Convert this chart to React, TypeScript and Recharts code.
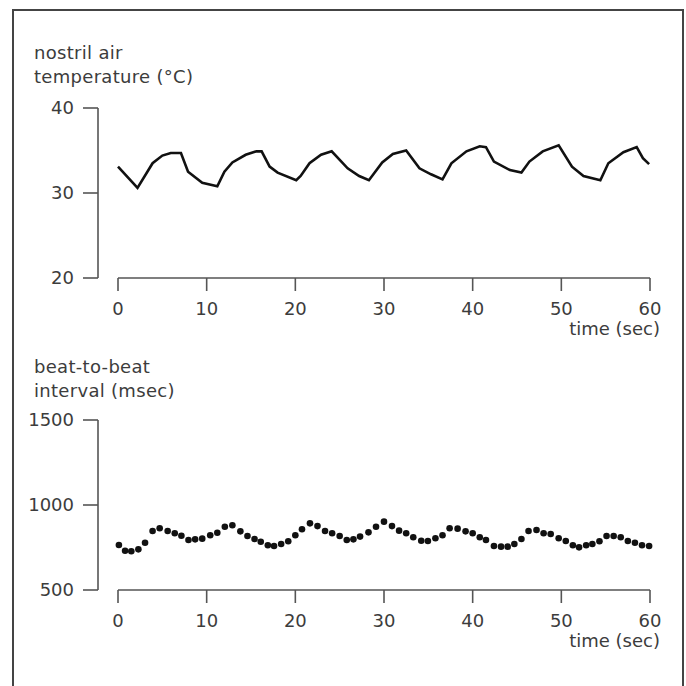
import {
  LineChart,
  Line,
  ScatterChart,
  Scatter,
  XAxis,
  YAxis,
  ReferenceLine,
  Label,
} from 'recharts'

// nostril air temperature trace (sec, °C)
const tempTime = [
  0, 2.2, 3.9, 5.0, 5.95, 7.1, 7.9, 9.5, 11.2, 12.0, 12.9, 14.4, 15.6, 16.2, 17.1, 18.0,
  20.1, 20.6, 21.6, 22.9, 24.1, 25.9, 27.2, 28.3, 29.8, 31.0, 32.5, 34.0, 35.3, 36.6,
  37.6, 39.3, 40.8, 41.5, 42.4, 44.2, 45.5, 46.4, 47.9, 49.7, 51.2, 52.5, 54.4, 55.3,
  57.0, 58.5, 59.2, 59.9,
]
const tempValue = [
  33.1, 30.6, 33.5, 34.4, 34.7, 34.7, 32.5, 31.2, 30.8, 32.5, 33.6, 34.5, 34.9, 34.9, 33.1, 32.4,
  31.5, 32.0, 33.5, 34.5, 34.9, 32.9, 32.0, 31.5, 33.6, 34.6, 35.0, 32.9, 32.2, 31.6,
  33.5, 34.9, 35.5, 35.4, 33.7, 32.7, 32.4, 33.7, 34.9, 35.6, 33.1, 32.0, 31.5, 33.5,
  34.8, 35.4, 34.1, 33.4,
]

// beat-to-beat interval (sec, msec)
const beatTime = [
  0.1, 0.8, 1.5, 2.3, 3.05, 3.9, 4.7, 5.6, 6.4, 7.15, 7.95, 8.7, 9.5, 10.4, 11.2, 12.05,
  12.9, 13.8, 14.6, 15.4, 16.1, 16.9, 17.6, 18.4, 19.2, 20.0, 20.75, 21.65, 22.5, 23.35,
  24.15, 25.0, 25.8, 26.55, 27.3, 28.25, 29.1, 30.0, 30.9, 31.7, 32.5, 33.3, 34.2, 34.95,
  35.8, 36.6, 37.4, 38.3, 39.2, 40.0, 40.8, 41.5, 42.4, 43.2, 43.95, 44.7, 45.5, 46.3,
  47.2, 48.0, 48.8, 49.7, 50.5, 51.3, 52.0, 52.8, 53.5, 54.3, 55.1, 55.9, 56.7, 57.5,
  58.3, 59.1, 59.9,
]
const beatValue = [
  765, 731, 728, 739, 778, 847, 863, 847, 834, 819, 794, 798, 802, 822, 837, 872,
  881, 845, 818, 800, 784, 763, 759, 771, 787, 822, 857, 892, 876, 847,
  834, 818, 794, 798, 814, 839, 872, 902, 876, 849, 834, 810, 790, 788,
  804, 822, 863, 861, 845, 834, 810, 794, 759, 755, 755, 771, 800, 847,
  853, 834, 829, 804, 788, 763, 751, 763, 771, 787, 818, 818, 810, 788,
  778, 763, 759,
]

const timeTicks = [0, 10, 20, 30, 40, 50, 60]
const tempTicks = [20, 30, 40]
const beatTicks = [500, 1000, 1500]

const tempData = tempTime.map((t, i) => ({ t, v: tempValue[i] }))
const beatData = beatTime.map((t, i) => ({ t, v: beatValue[i] }))

const FONT = '"DejaVu Sans", sans-serif'
const INK = '#3c3c3c'
const AXIS = '#555'
const W = 686
const H = 340
const margin = { top: 108, right: 36, bottom: 18, left: 38 }
const tickStyle = { fill: INK, fontSize: 18, fontFamily: FONT }

function TimeLabel(props: any) {
  const vb = props.viewBox || { x: 98, y: 278, width: 552 }
  return (
    <text x={vb.x + vb.width + 10} y={vb.y + 57} textAnchor="end" fill={INK} fontSize={18} fontFamily={FONT}>
      time (sec)
    </text>
  )
}

function xAxisProps() {
  return {
    type: 'number' as const,
    dataKey: 't',
    domain: [0, 60],
    ticks: timeTicks,
    padding: { left: 20, right: 0 },
    axisLine: false,
    tickLine: { stroke: AXIS, strokeWidth: 1.6 },
    tickSize: 13,
    tickMargin: 11,
    height: 44,
    tick: tickStyle,
    interval: 0 as const,
  }
}

function Title({ top, lines }: { top: number; lines: string[] }) {
  return (
    <div
      style={{
        position: 'absolute',
        left: 34,
        top,
        fontFamily: FONT,
        fontSize: 18,
        lineHeight: '24px',
        color: INK,
        letterSpacing: 0.3,
        whiteSpace: 'nowrap',
      }}
    >
      {lines.map((l) => (
        <div key={l}>{l}</div>
      ))}
    </div>
  )
}

export default function App() {
  return (
    <div style={{ position: 'fixed', left: 0, top: 0, width: W, height: W, background: '#fff', overflow: 'hidden' }}>
      <div
        style={{
          position: 'absolute',
          left: 12,
          top: 9,
          width: 668,
          height: 720,
          border: '2px solid #444',
        }}
      />

      <Title top={41} lines={['nostril air', 'temperature (°C)']} />
      <div style={{ position: 'absolute', left: 0, top: 0 }}>
        <LineChart width={W} height={H} data={tempData} margin={margin}>
          <XAxis {...xAxisProps()}>
            <Label content={<TimeLabel />} />
          </XAxis>
          <YAxis
            type="number"
            dataKey="v"
            domain={[20, 40]}
            ticks={tempTicks}
            width={60}
            axisLine={{ stroke: AXIS, strokeWidth: 1.6 }}
            tickLine={{ stroke: AXIS, strokeWidth: 1.6 }}
            tickSize={15}
            tickMargin={9}
            tick={tickStyle}
            interval={0}
          />
          <ReferenceLine
            segment={[{ x: 0, y: 20 }, { x: 60, y: 20 }]}
            stroke={AXIS}
            strokeWidth={1.6}
            ifOverflow="visible"
          />
          <Line
            type="linear"
            dataKey="v"
            stroke="#111"
            strokeWidth={2.6}
            dot={false}
            isAnimationActive={false}
          />
        </LineChart>
      </div>

      <Title top={355} lines={['beat-to-beat', 'interval (msec)']} />
      <div style={{ position: 'absolute', left: 0, top: 312 }}>
        <ScatterChart width={W} height={H} margin={margin}>
          <XAxis {...xAxisProps()}>
            <Label content={<TimeLabel />} />
          </XAxis>
          <YAxis
            type="number"
            dataKey="v"
            domain={[500, 1500]}
            ticks={beatTicks}
            width={60}
            axisLine={{ stroke: AXIS, strokeWidth: 1.6 }}
            tickLine={{ stroke: AXIS, strokeWidth: 1.6 }}
            tickSize={15}
            tickMargin={9}
            tick={tickStyle}
            interval={0}
          />
          <ReferenceLine
            segment={[{ x: 0, y: 500 }, { x: 60, y: 500 }]}
            stroke={AXIS}
            strokeWidth={1.6}
            ifOverflow="visible"
          />
          <Scatter
            data={beatData}
            fill="#111"
            isAnimationActive={false}
            shape={(p: any) => <circle cx={p.cx} cy={p.cy} r={3.3} fill="#111" />}
          />
        </ScatterChart>
      </div>
    </div>
  )
}
